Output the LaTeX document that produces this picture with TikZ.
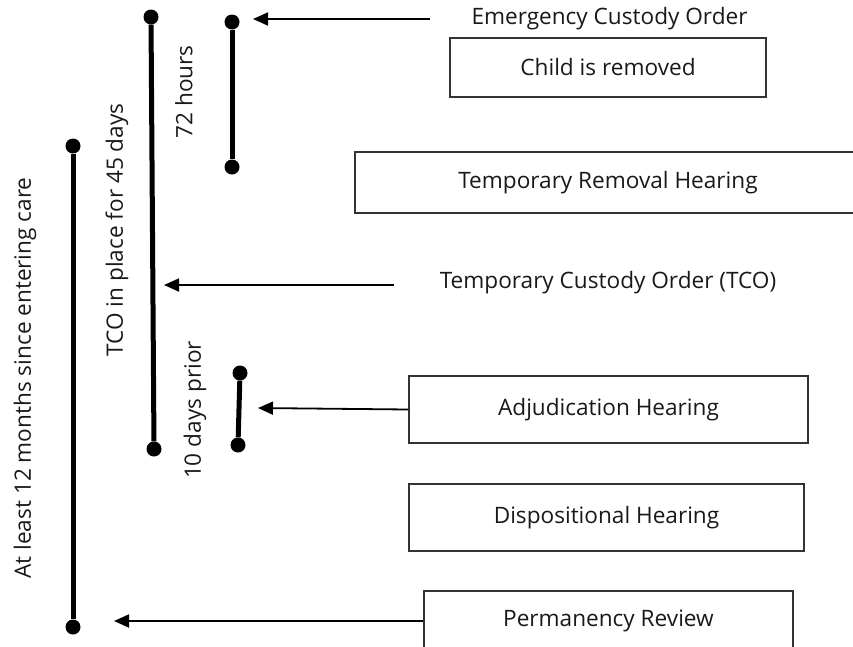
\documentclass[tikz,border=0pt]{standalone}
\usepackage{fontspec}
\setmainfont{Open Sans}
\usetikzlibrary{arrows.meta}
\begin{document}
\begin{tikzpicture}[x=1pt,y=-1pt,
  every node/.style={font=\fontsize{22.6}{26}\selectfont, text=black!90},
  box/.style={draw=black!80, line width=1.2pt, inner sep=0pt},
  dot/.style={circle, fill=black, minimum size=15pt, inner sep=0pt},
  bar/.style={line width=5pt},
  ptr/.style={line width=1.8pt, -{Triangle[length=15pt,width=13pt]}},
  vlabel/.style={rotate=90, inner sep=0pt}]
\clip (0,0) rectangle (853,646);
\useasboundingbox (0,0) rectangle (853,646);
% bars
\node[dot] (a1) at (73,146) {};
\node[dot] (a2) at (73,627) {};
\node[dot] (b1) at (151,17) {};
\node[dot] (b2) at (154,449) {};
\node[dot] (c1) at (232,22) {};
\node[dot] (c2) at (232,167) {};
\node[dot] (d1) at (240,373) {};
\node[dot] (d2) at (238,445) {};
\draw[bar] (a1) -- (a2);
\draw[bar] (b1) -- (b2);
\draw[bar] (c1) -- (c2);
\draw[bar] (d1) -- (d2);
% rotated labels
\node[vlabel] (l72) at (184,92) {72 hours};
\node[vlabel] (l45) at (117,230) {TCO in place for 45 days};
\node[vlabel] (l10) at (195,410) {10 days prior};
\node[vlabel] (l12) at (25,378) {At least 12 months since entering care};
% boxes
\node[box, minimum width=316pt, minimum height=59pt] (child) at (608,67.5) {Child is removed};
\node[box, minimum width=506pt, minimum height=61pt] (trh) at (608,182.5) {Temporary Removal Hearing};
\node[box, minimum width=399pt, minimum height=67pt] (adj) at (608.5,409.5) {Adjudication Hearing};
\node[box, minimum width=395pt, minimum height=67pt] (disp) at (606.5,517.5) {Dispositional Hearing};
\node[box, minimum width=369pt, minimum height=60pt] (perm) at (608.5,621) {Permanency Review};
% free labels
\node (eco) at (609.5,19) {Emergency Custody Order};
\node (tco) at (608,283) {Temporary Custody Order (TCO)};
% pointer coordinates
\coordinate (ecoS) at (430,19);
\coordinate (ecoT) at (253,19);
\coordinate (tcoS) at (394,285);
\coordinate (tcoT) at (164,285);
\coordinate (adjT) at (258,408);
\coordinate (permT) at (114,621);
\draw[ptr] (ecoS) -- (ecoT);
\draw[ptr] (tcoS) -- (tcoT);
\draw[ptr] (adj.west) -- (adjT);
\draw[ptr] (perm.west) -- (permT);
\end{tikzpicture}
\end{document}
